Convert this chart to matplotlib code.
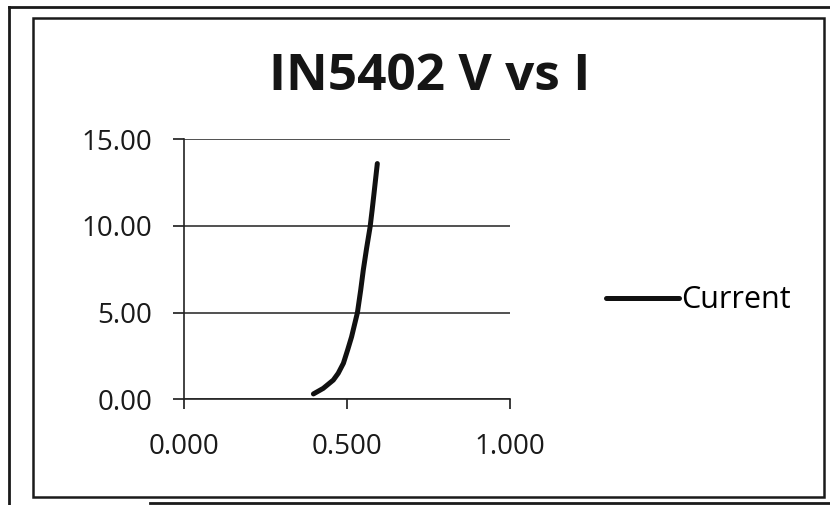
import numpy as np
import matplotlib.pyplot as plt
from matplotlib.patches import Rectangle
from matplotlib.lines import Line2D

# diode forward voltage (V) and current
voltage = [0.397, 0.427, 0.458, 0.473, 0.489, 0.502, 0.514, 0.532, 0.542,
           0.550, 0.560, 0.571, 0.577, 0.583, 0.588, 0.593]
current = [0.31, 0.63, 1.11, 1.50, 2.08, 2.85, 3.60, 5.00, 6.30,
           7.46, 8.70, 9.96, 10.90, 11.90, 12.75, 13.60]

x_ticks = [0.0, 0.5, 1.0]
y_ticks = [0, 5, 10, 15]

plt.rcParams['font.family'] = ['Open Sans', 'DejaVu Sans']

W, H = 830, 505
fig = plt.figure(figsize=(8.3, 5.05), dpi=100)
fig.patch.set_facecolor('white')

# chart frame
fig.patches.append(Rectangle((33 / W, 1 - 497 / H), 791 / W, 479 / H,
                             transform=fig.transFigure, fill=False,
                             edgecolor='#1a1a1a', linewidth=1.8))
# edges of the printed sheet in the photo
for xs, ys in [([9, 9], [7, 505]), ([9, 830], [7, 7]), ([150, 830], [503, 503])]:
    fig.add_artist(Line2D([x / W for x in xs], [1 - y / H for y in ys],
                          transform=fig.transFigure, color='#1a1a1a', linewidth=2))

ax = fig.add_axes([184 / W, 1 - 399.3 / H, 326 / W, 260 / H])
ax.plot(voltage, current, color='#111111', linewidth=3.6,
        solid_capstyle='round', solid_joinstyle='round', label='Current')

ax.set_xlim(0, 1)
ax.set_ylim(0, 15)
ax.set_xticks(x_ticks)
ax.set_yticks(y_ticks)
ax.set_xticklabels([f"{v:.3f}" for v in x_ticks])
ax.set_yticklabels([f"{v:.2f}" for v in y_ticks])
ax.tick_params(axis='both', labelsize=20, colors='#1a1a1a', direction='out')
ax.tick_params(axis='x', length=7, width=1.2, pad=17)
ax.tick_params(axis='y', length=8, width=1.2, pad=15)

ax.grid(axis='y', color='#333333', linewidth=1.2)
ax.set_axisbelow(True)
for side in ['top', 'right']:
    ax.spines[side].set_visible(False)
for side in ['left', 'bottom']:
    ax.spines[side].set_color('#222222')
    ax.spines[side].set_linewidth(1.2)

fig.text(430 / W, 1 - 77 / H, 'IN5402 V vs I', ha='center', va='center',
         fontsize=37, fontweight='bold', color='#151515')

ax.legend(loc='center left', bbox_to_anchor=(1.21, 0.38), frameon=False,
          fontsize=22, handlelength=2.4, handletextpad=0.05)

fig.savefig('out.png', dpi=100)
